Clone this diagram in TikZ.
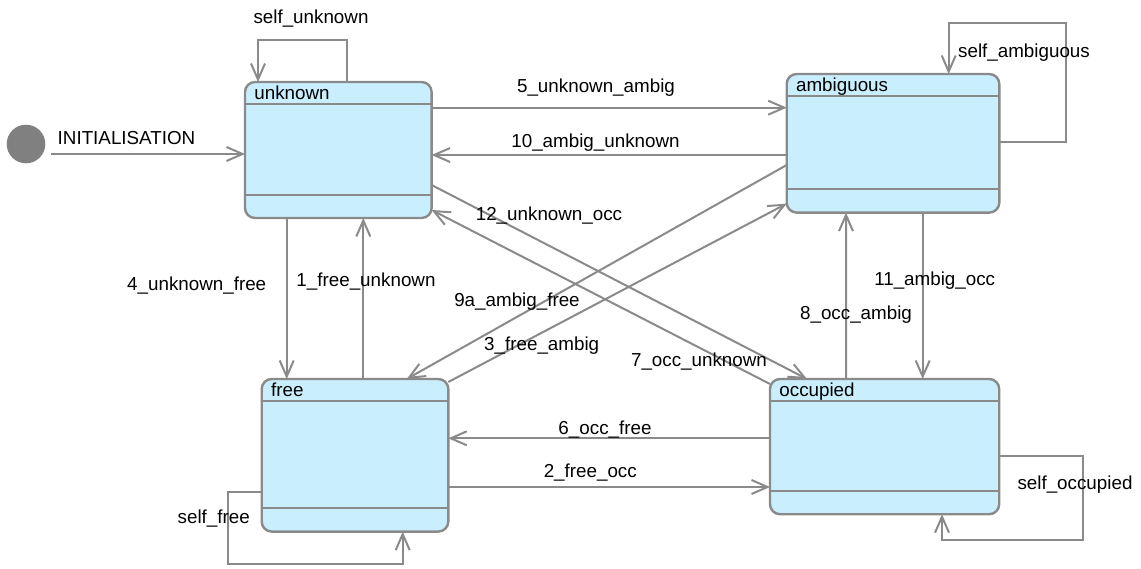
\documentclass[tikz,border=0pt]{standalone}
\usepackage{fontspec}
\setmainfont{Liberation Sans}
\usetikzlibrary{arrows.meta,calc}

\definecolor{statefill}{RGB}{201,238,253}
\definecolor{linegray}{RGB}{138,138,138}
\definecolor{initgray}{RGB}{128,128,128}

\begin{document}
\begin{tikzpicture}[
    x=0.5pt, y=-0.5pt,
    every node/.style={font=\fontsize{9.4}{11}\selectfont},
    state/.style={rectangle, draw=linegray, line width=1.2pt, fill=statefill, rounded corners=5pt, inner sep=0pt, outer sep=0pt, anchor=north west},
    title/.style={anchor=base west, inner sep=0pt},
    sep/.style={draw=linegray, line width=1pt},
    trans/.style={-{Straight Barb[length=8pt, width=7pt]}, draw=linegray, line width=1pt},
    lbl/.style={anchor=base, inner sep=0pt}
]
    \useasboundingbox (0,0) rectangle (1141,568);

    % initial pseudo state
    \node[circle, fill=initgray, minimum size=19.3pt, inner sep=0pt] (init) at (26,144) {};

    % states
    \node[state, minimum width=93.3pt, minimum height=68pt] (unknown) at (245,82) {};
    \node[state, minimum width=106.3pt, minimum height=69.3pt] (ambiguous) at (786.7,74) {};
    \node[state, minimum width=93.3pt, minimum height=76.3pt] (free) at (261.7,379) {};
    \node[state, minimum width=114.6pt, minimum height=67.6pt] (occupied) at (770,379) {};

    \node[title] (unknowntitle) at ($(unknown.north west)+(9,17)$) {unknown};
    \node[title] (ambiguoustitle) at ($(ambiguous.north west)+(9,17)$) {ambiguous};
    \node[title] (freetitle) at ($(free.north west)+(9,17)$) {free};
    \node[title] (occupiedtitle) at ($(occupied.north west)+(9,17)$) {occupied};

    % compartments
    \draw[sep] ($(unknown.north west)+(0,22.3)$) -- ($(unknown.north east)+(0,22.3)$);
    \draw[sep] ($(unknown.south west)+(0,-23.5)$) -- ($(unknown.south east)+(0,-23.5)$);
    \draw[sep] ($(ambiguous.north west)+(0,22.3)$) -- ($(ambiguous.north east)+(0,22.3)$);
    \draw[sep] ($(ambiguous.south west)+(0,-23.5)$) -- ($(ambiguous.south east)+(0,-23.5)$);
    \draw[sep] ($(free.north west)+(0,22.3)$) -- ($(free.north east)+(0,22.3)$);
    \draw[sep] ($(free.south west)+(0,-23.5)$) -- ($(free.south east)+(0,-23.5)$);
    \draw[sep] ($(occupied.north west)+(0,22.3)$) -- ($(occupied.north east)+(0,22.3)$);
    \draw[sep] ($(occupied.south west)+(0,-23.5)$) -- ($(occupied.south east)+(0,-23.5)$);

    % transitions
    \draw[trans] ($(init.east)+(5,10)$) -- ($(unknown.north west)+(0,72)$);
    \draw[trans] ($(unknown.north east)+(0,25.7)$) -- ($(ambiguous.north west)+(0,33.7)$);
    \draw[trans] ($(ambiguous.north west)+(0,81)$) -- ($(unknown.north east)+(0,73)$);
    \draw[trans] ($(unknown.north east)+(0,103)$) -- ($(occupied.north west)+(37,0)$);
    \draw[trans] ($(occupied.north west)+(0,5)$) -- ($(unknown.south east)+(0,-8)$);
    \draw[trans] ($(ambiguous.north west)+(0,91)$) -- ($(free.north west)+(145,0)$);
    \draw[trans] ($(free.north east)+(0,3)$) -- ($(ambiguous.south west)+(0,-9)$);
    \draw[trans] ($(unknown.south west)+(41.7,0)$) -- ($(free.north west)+(25,0)$);
    \draw[trans] ($(free.north west)+(101.6,0)$) -- ($(unknown.south west)+(118.3,0)$);
    \draw[trans] ($(occupied.north west)+(76,0)$) -- ($(ambiguous.south west)+(59.3,0)$);
    \draw[trans] ($(ambiguous.south west)+(136,0)$) -- ($(occupied.north west)+(152.7,0)$);
    \draw[trans] ($(occupied.north west)+(0,59.3)$) -- ($(free.north east)+(0,59.3)$);
    \draw[trans] ($(free.north east)+(0,108)$) -- ($(occupied.north west)+(0,108)$);

    % self transitions
    \draw[trans] ($(unknown.north west)+(102,0)$) -- ++(0,-42) -| ($(unknown.north west)+(13,0)$);
    \draw[trans] ($(ambiguous.north east)+(0,68)$) -| ($(ambiguous.north east)+(67,-51)$) -| ($(ambiguous.north west)+(162,0)$);
    \draw[trans] ($(free.north west)+(0,113)$) -| ($(free.south west)+(-34,32)$) -| ($(free.south west)+(141,0)$);
    \draw[trans] ($(occupied.north east)+(0,77)$) -| ($(occupied.south east)+(84,26)$) -| ($(occupied.south west)+(172,0)$);

    % labels
    \node[lbl] (lblinit) at (126.5,144) {INITIALISATION};
    \node[lbl] (lblselfunknown) at (311,23.3) {self\_unknown};
    \node[lbl] (lblselfambiguous) at (1024,57.3) {self\_ambiguous};
    \node[lbl] (lbl5) at (596,92.3) {5\_unknown\_ambig};
    \node[lbl] (lbl10) at (595.5,147.3) {10\_ambig\_unknown};
    \node[lbl] (lbl12) at (549,220) {12\_unknown\_occ};
    \node[lbl] (lbl4) at (196.7,290) {4\_unknown\_free};
    \node[lbl] (lbl1) at (366,286) {1\_free\_unknown};
    \node[lbl] (lbl11) at (934.7,285.7) {11\_ambig\_occ};
    \node[lbl] (lbl9a) at (517,306.7) {9a\_ambig\_free};
    \node[lbl] (lbl8) at (856,319.3) {8\_occ\_ambig};
    \node[lbl] (lbl3) at (541.7,350) {3\_free\_ambig};
    \node[lbl] (lbl7) at (699,366.7) {7\_occ\_unknown};
    \node[lbl] (lbl6) at (605,434.3) {6\_occ\_free};
    \node[lbl] (lbl2) at (590.3,477.7) {2\_free\_occ};
    \node[lbl] (lblselfoccupied) at (1075,489.3) {self\_occupied};
    \node[lbl] (lblselffree) at (213.7,523.3) {self\_free};
\end{tikzpicture}
\end{document}
